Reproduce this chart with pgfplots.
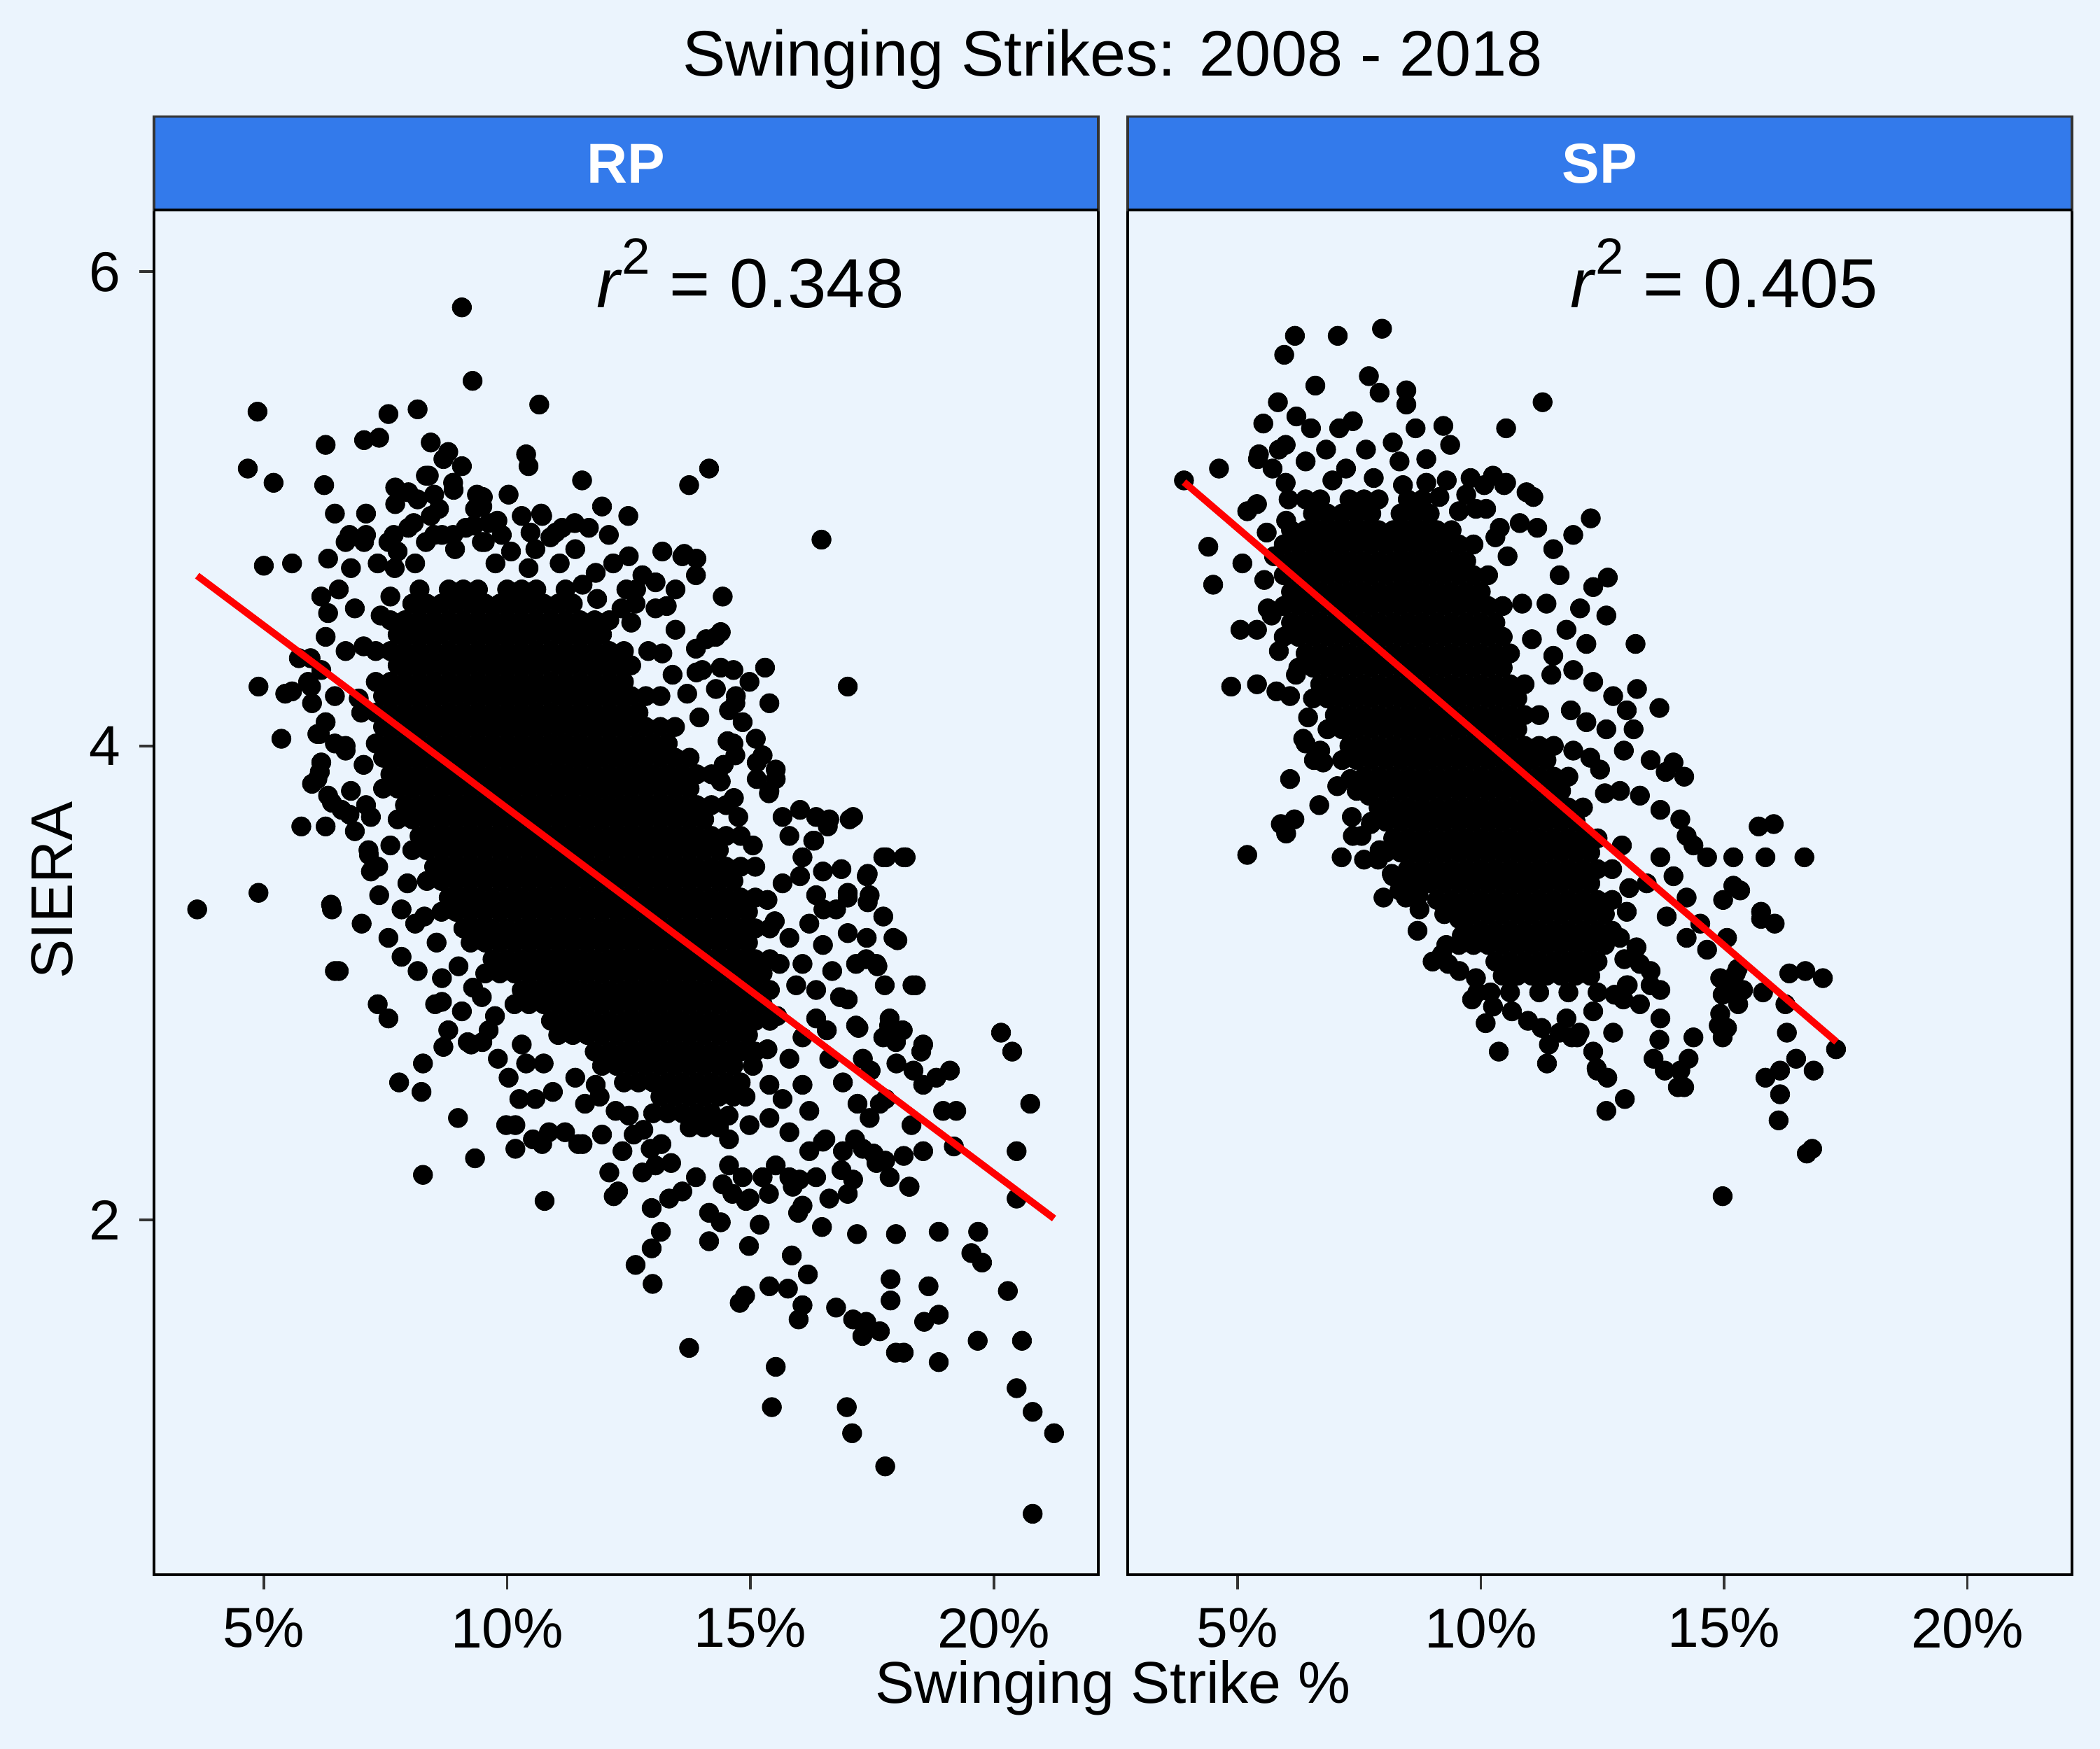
\documentclass[border=0pt]{standalone}
\usepackage{fontspec}
\setmainfont{Liberation Sans}
\usepackage{pgfplots}
\pgfplotsset{compat=1.18}
\definecolor{bg}{RGB}{235,244,253}
\definecolor{stripc}{RGB}{51,122,235}
\definecolor{gray20}{RGB}{51,51,51}
\pgfplotsset{
  panel/.style={
    scale only axis, width=176.25pt, height=254.75pt,
    xmin=2.743, xmax=22.147, ymin=0.503, ymax=6.26,
    clip marker paths=true,
    axis line style={black, line width=0.5pt},
    tick align=outside, major tick length=2.75pt,
    tick style={gray20, line width=0.5pt},
    xtick={5,10,15,20}, xticklabels={5\%,10\%,15\%,20\%},
    ytick={2,4,6},
    xtick pos=bottom, ytick pos=left,
    /pgf/number format/assume math mode=true,
    tick label style={font=\fontsize{10.5}{12}\selectfont, black},
  },
  dots/.style={only marks, mark=*, black, mark size=1.8pt, mark options={line width=0.1pt}},
  fit/.style={red, line width=1.3pt},
}
\newcommand{\rsq}[1]{\textit{r}\raisebox{6.2pt}{\fontsize{9.5}{10}\selectfont 2} = #1}
\begin{document}
\begin{tikzpicture}
\fill[bg] (0,0) rectangle (392pt,326.5pt);
% ---------------- RP ----------------
\begin{axis}[panel, name=rp, at={(28.75pt,32.5pt)}, anchor=south west]
\addplot[dots] coordinates {
(8.2,4.66)(8.8,4.66)(9.1,4.66)(9.4,4.66)(10.0,4.66)(10.3,4.66)(10.6,4.66)(11.2,4.66)
(8.05,4.60)(8.35,4.60)(8.65,4.60)(8.95,4.60)(9.25,4.60)(9.55,4.60)(9.85,4.60)(10.15,4.60)(10.45,4.60)(10.75,4.60)(11.05,4.60)(11.35,4.60)
(7.6,4.53)(7.9,4.53)(8.2,4.53)(8.5,4.53)(8.8,4.53)(9.1,4.53)(9.4,4.53)(9.7,4.53)(10.0,4.53)(10.3,4.53)(10.6,4.53)(10.9,4.53)(11.2,4.53)(11.5,4.53)(11.8,4.53)(12.1,4.53)
(7.75,4.47)(8.05,4.47)(8.35,4.47)(8.65,4.47)(8.95,4.47)(9.25,4.47)(9.55,4.47)(9.85,4.47)(10.15,4.47)(10.45,4.47)(10.75,4.47)(11.05,4.47)(11.35,4.47)(11.65,4.47)(11.95,4.47)
(7.3,4.40)(7.6,4.40)(7.9,4.40)(8.2,4.40)(8.5,4.40)(8.8,4.40)(9.1,4.40)(9.4,4.40)(9.7,4.40)(10.0,4.40)(10.3,4.40)(10.6,4.40)(10.9,4.40)(11.2,4.40)(11.5,4.40)(11.8,4.40)(12.1,4.40)(12.4,4.40)
(7.75,4.34)(8.05,4.34)(8.35,4.34)(8.65,4.34)(8.95,4.34)(9.25,4.34)(9.55,4.34)(9.85,4.34)(10.15,4.34)(10.45,4.34)(10.75,4.34)(11.05,4.34)(11.35,4.34)(11.65,4.34)(11.95,4.34)(12.25,4.34)(12.55,4.34)
(7.3,4.27)(7.6,4.27)(7.9,4.27)(8.2,4.27)(8.5,4.27)(8.8,4.27)(9.1,4.27)(9.4,4.27)(9.7,4.27)(10.0,4.27)(10.3,4.27)(10.6,4.27)(10.9,4.27)(11.2,4.27)(11.5,4.27)(11.8,4.27)(12.1,4.27)(12.4,4.27)
(7.45,4.21)(7.75,4.21)(8.05,4.21)(8.35,4.21)(8.65,4.21)(8.95,4.21)(9.25,4.21)(9.55,4.21)(9.85,4.21)(10.15,4.21)(10.45,4.21)(10.75,4.21)(11.05,4.21)(11.35,4.21)(11.65,4.21)(11.95,4.21)(12.25,4.21)(12.55,4.21)(12.85,4.21)(13.15,4.21)
(7.0,4.14)(7.3,4.14)(7.6,4.14)(7.9,4.14)(8.2,4.14)(8.5,4.14)(8.8,4.14)(9.1,4.14)(9.4,4.14)(9.7,4.14)(10.0,4.14)(10.3,4.14)(10.6,4.14)(10.9,4.14)(11.2,4.14)(11.5,4.14)(11.8,4.14)(12.1,4.14)(12.4,4.14)(12.7,4.14)
(7.45,4.08)(7.75,4.08)(8.05,4.08)(8.35,4.08)(8.65,4.08)(8.95,4.08)(9.25,4.08)(9.55,4.08)(9.85,4.08)(10.15,4.08)(10.45,4.08)(10.75,4.08)(11.05,4.08)(11.35,4.08)(11.65,4.08)(11.95,4.08)(12.25,4.08)(12.55,4.08)(12.85,4.08)(13.15,4.08)(13.45,4.08)
(7.3,4.01)(7.6,4.01)(7.9,4.01)(8.2,4.01)(8.5,4.01)(8.8,4.01)(9.1,4.01)(9.4,4.01)(9.7,4.01)(10.0,4.01)(10.3,4.01)(10.6,4.01)(10.9,4.01)(11.2,4.01)(11.5,4.01)(11.8,4.01)(12.1,4.01)(12.4,4.01)(12.7,4.01)(13.0,4.01)(13.3,4.01)
(7.45,3.95)(7.75,3.95)(8.05,3.95)(8.35,3.95)(8.65,3.95)(8.95,3.95)(9.25,3.95)(9.55,3.95)(9.85,3.95)(10.15,3.95)(10.45,3.95)(10.75,3.95)(11.05,3.95)(11.35,3.95)(11.65,3.95)(11.95,3.95)(12.25,3.95)(12.55,3.95)(12.85,3.95)(13.15,3.95)(13.45,3.95)(13.75,3.95)
(7.6,3.88)(7.9,3.88)(8.2,3.88)(8.5,3.88)(8.8,3.88)(9.1,3.88)(9.4,3.88)(9.7,3.88)(10.0,3.88)(10.3,3.88)(10.6,3.88)(10.9,3.88)(11.2,3.88)(11.5,3.88)(11.8,3.88)(12.1,3.88)(12.4,3.88)(12.7,3.88)(13.0,3.88)(13.3,3.88)(13.6,3.88)(13.9,3.88)(14.2,3.88)
(7.45,3.82)(7.75,3.82)(8.05,3.82)(8.35,3.82)(8.65,3.82)(8.95,3.82)(9.25,3.82)(9.55,3.82)(9.85,3.82)(10.15,3.82)(10.45,3.82)(10.75,3.82)(11.05,3.82)(11.35,3.82)(11.65,3.82)(11.95,3.82)(12.25,3.82)(12.55,3.82)(12.85,3.82)(13.15,3.82)(13.45,3.82)(13.75,3.82)
(7.9,3.75)(8.2,3.75)(8.5,3.75)(8.8,3.75)(9.1,3.75)(9.4,3.75)(9.7,3.75)(10.0,3.75)(10.3,3.75)(10.6,3.75)(10.9,3.75)(11.2,3.75)(11.5,3.75)(11.8,3.75)(12.1,3.75)(12.4,3.75)(12.7,3.75)(13.0,3.75)(13.3,3.75)(13.6,3.75)(13.9,3.75)(14.2,3.75)(14.5,3.75)
(7.75,3.69)(8.05,3.69)(8.35,3.69)(8.65,3.69)(8.95,3.69)(9.25,3.69)(9.55,3.69)(9.85,3.69)(10.15,3.69)(10.45,3.69)(10.75,3.69)(11.05,3.69)(11.35,3.69)(11.65,3.69)(11.95,3.69)(12.25,3.69)(12.55,3.69)(12.85,3.69)(13.15,3.69)(13.45,3.69)(13.75,3.69)(14.05,3.69)
(8.2,3.62)(8.5,3.62)(8.8,3.62)(9.1,3.62)(9.4,3.62)(9.7,3.62)(10.0,3.62)(10.3,3.62)(10.6,3.62)(10.9,3.62)(11.2,3.62)(11.5,3.62)(11.8,3.62)(12.1,3.62)(12.4,3.62)(12.7,3.62)(13.0,3.62)(13.3,3.62)(13.6,3.62)(13.9,3.62)(14.2,3.62)(14.5,3.62)(14.8,3.62)
(8.05,3.56)(8.35,3.56)(8.65,3.56)(8.95,3.56)(9.25,3.56)(9.55,3.56)(9.85,3.56)(10.15,3.56)(10.45,3.56)(10.75,3.56)(11.05,3.56)(11.35,3.56)(11.65,3.56)(11.95,3.56)(12.25,3.56)(12.55,3.56)(12.85,3.56)(13.15,3.56)(13.45,3.56)(13.75,3.56)(14.05,3.56)(14.35,3.56)
(8.5,3.49)(8.8,3.49)(9.1,3.49)(9.4,3.49)(9.7,3.49)(10.0,3.49)(10.3,3.49)(10.6,3.49)(10.9,3.49)(11.2,3.49)(11.5,3.49)(11.8,3.49)(12.1,3.49)(12.4,3.49)(12.7,3.49)(13.0,3.49)(13.3,3.49)(13.6,3.49)(13.9,3.49)(14.2,3.49)(14.5,3.49)(14.8,3.49)(15.1,3.49)
(8.35,3.43)(8.65,3.43)(8.95,3.43)(9.25,3.43)(9.55,3.43)(9.85,3.43)(10.15,3.43)(10.45,3.43)(10.75,3.43)(11.05,3.43)(11.35,3.43)(11.65,3.43)(11.95,3.43)(12.25,3.43)(12.55,3.43)(12.85,3.43)(13.15,3.43)(13.45,3.43)(13.75,3.43)(14.05,3.43)(14.35,3.43)(14.65,3.43)
(8.8,3.36)(9.1,3.36)(9.4,3.36)(9.7,3.36)(10.0,3.36)(10.3,3.36)(10.6,3.36)(10.9,3.36)(11.2,3.36)(11.5,3.36)(11.8,3.36)(12.1,3.36)(12.4,3.36)(12.7,3.36)(13.0,3.36)(13.3,3.36)(13.6,3.36)(13.9,3.36)(14.2,3.36)(14.5,3.36)(14.8,3.36)(15.1,3.36)
(8.65,3.30)(8.95,3.30)(9.25,3.30)(9.55,3.30)(9.85,3.30)(10.15,3.30)(10.45,3.30)(10.75,3.30)(11.05,3.30)(11.35,3.30)(11.65,3.30)(11.95,3.30)(12.25,3.30)(12.55,3.30)(12.85,3.30)(13.15,3.30)(13.45,3.30)(13.75,3.30)(14.05,3.30)(14.35,3.30)(14.65,3.30)(14.95,3.30)
(9.1,3.23)(9.4,3.23)(9.7,3.23)(10.0,3.23)(10.3,3.23)(10.6,3.23)(10.9,3.23)(11.2,3.23)(11.5,3.23)(11.8,3.23)(12.1,3.23)(12.4,3.23)(12.7,3.23)(13.0,3.23)(13.3,3.23)(13.6,3.23)(13.9,3.23)(14.2,3.23)(14.5,3.23)(14.8,3.23)(15.1,3.23)(15.4,3.23)
(9.25,3.17)(9.55,3.17)(9.85,3.17)(10.15,3.17)(10.45,3.17)(10.75,3.17)(11.05,3.17)(11.35,3.17)(11.65,3.17)(11.95,3.17)(12.25,3.17)(12.55,3.17)(12.85,3.17)(13.15,3.17)(13.45,3.17)(13.75,3.17)(14.05,3.17)(14.35,3.17)(14.65,3.17)(14.95,3.17)
(9.7,3.10)(10.0,3.10)(10.3,3.10)(10.6,3.10)(10.9,3.10)(11.2,3.10)(11.5,3.10)(11.8,3.10)(12.1,3.10)(12.4,3.10)(12.7,3.10)(13.0,3.10)(13.3,3.10)(13.6,3.10)(13.9,3.10)(14.2,3.10)(14.5,3.10)(14.8,3.10)(15.1,3.10)(15.4,3.10)
(9.55,3.04)(9.85,3.04)(10.15,3.04)(10.45,3.04)(10.75,3.04)(11.05,3.04)(11.35,3.04)(11.65,3.04)(11.95,3.04)(12.25,3.04)(12.55,3.04)(12.85,3.04)(13.15,3.04)(13.45,3.04)(13.75,3.04)(14.05,3.04)(14.35,3.04)(14.65,3.04)(14.95,3.04)(15.25,3.04)
(10.3,2.97)(10.6,2.97)(10.9,2.97)(11.2,2.97)(11.5,2.97)(11.8,2.97)(12.1,2.97)(12.4,2.97)(12.7,2.97)(13.0,2.97)(13.3,2.97)(13.6,2.97)(13.9,2.97)(14.2,2.97)(14.5,2.97)(14.8,2.97)(15.1,2.97)(15.4,2.97)
(10.15,2.91)(10.45,2.91)(10.75,2.91)(11.05,2.91)(11.35,2.91)(11.65,2.91)(11.95,2.91)(12.25,2.91)(12.55,2.91)(12.85,2.91)(13.15,2.91)(13.45,2.91)(13.75,2.91)(14.05,2.91)(14.35,2.91)(14.65,2.91)(14.95,2.91)(15.25,2.91)
(10.9,2.84)(11.2,2.84)(11.5,2.84)(11.8,2.84)(12.1,2.84)(12.4,2.84)(12.7,2.84)(13.0,2.84)(13.3,2.84)(13.6,2.84)(13.9,2.84)(14.2,2.84)(14.5,2.84)(14.8,2.84)(15.1,2.84)(15.4,2.84)
(11.05,2.78)(11.35,2.78)(11.65,2.78)(11.95,2.78)(12.25,2.78)(12.55,2.78)(12.85,2.78)(13.15,2.78)(13.45,2.78)(13.75,2.78)(14.05,2.78)(14.35,2.78)(14.65,2.78)(14.95,2.78)
(11.8,2.71)(12.1,2.71)(12.4,2.71)(12.7,2.71)(13.0,2.71)(13.3,2.71)(13.6,2.71)(13.9,2.71)(14.2,2.71)(14.5,2.71)(14.8,2.71)(15.1,2.71)
(11.95,2.65)(12.25,2.65)(12.55,2.65)(12.85,2.65)(13.15,2.65)(13.45,2.65)(13.75,2.65)(14.05,2.65)(14.35,2.65)(14.65,2.65)
(12.4,2.58)(12.7,2.58)(13.0,2.58)(13.3,2.58)(13.6,2.58)(13.9,2.58)(14.2,2.58)(14.5,2.58)(14.8,2.58)
(13.15,2.52)(13.45,2.52)(13.75,2.52)(14.05,2.52)(14.35,2.52)(14.65,2.52)
(13.0,2.45)(13.3,2.45)(13.6,2.45)(13.9,2.45)(14.2,2.45)
(13.75,2.39)(14.05,2.39)(14.35,2.39)
};
\addplot[dots] coordinates {
(9.07,5.85)(9.29,5.54)(10.66,5.44)(8.16,5.42)(7.56,5.40)(4.87,5.41)
(4.67,5.17)(5.20,5.11)(6.27,5.27)(6.24,5.10)(7.06,5.29)(7.37,5.30)(8.43,5.28)(8.79,5.24)(8.33,5.14)(7.97,5.07)(9.07,5.18)(10.39,5.23)(10.44,5.18)(11.54,5.12)(11.95,5.01)(10.03,5.06)(14.15,5.17)(13.74,5.10)(9.5,5.05)(8.6,5.0)(7.7,5.02)(7.1,4.98)(9.8,4.95)(10.7,4.98)(8.9,5.08)(8.69,5.21)
(3.63,3.31)(4.89,3.38)(5.36,4.03)(4.89,4.25)(5.00,4.76)(5.58,4.77)(5.77,3.66)(6.27,3.66)(6.38,3.33)(6.46,3.05)(6.40,3.31)
(6.46,4.98)(6.68,4.86)(6.32,4.79)(6.79,4.75)(7.06,4.86)(6.18,4.63)(6.54,4.66)(6.32,4.56)(6.87,4.58)(6.27,4.46)(5.96,4.37)(6.18,4.32)(6.68,4.40)(5.91,4.27)(5.58,4.23)(5.99,4.18)(6.46,4.21)(6.27,4.10)(6.10,4.05)(6.46,4.01)(6.18,3.93)(6.68,3.98)(5.99,3.84)(6.32,3.79)(6.79,3.81)(6.60,3.73)(6.87,3.64)(7.15,3.56)(7.20,3.47)(7.37,3.37)(7.01,3.25)(7.56,3.19)(7.83,3.11)(8.11,3.25)(7.83,3.31)(8.16,3.05)(8.66,3.02)(8.52,2.91)(9.07,2.88)(8.79,2.80)(9.48,2.94)(9.62,2.80)(9.26,2.74)(9.81,2.68)(10.03,2.60)(10.39,2.66)(10.25,2.51)(10.58,2.51)(10.94,2.54)(10.17,2.40)(10.53,2.34)(10.86,2.37)(11.19,2.37)(11.46,2.32)(11.95,2.36)(11.60,2.49)(11.82,2.57)(12.23,2.46)(12.37,2.29)(12.10,2.20)(12.28,2.12)(12.78,2.20)(13.05,2.23)(12.97,2.05)(13.33,2.09)(13.60,2.12)(13.88,2.18)(14.15,2.03)(14.43,2.15)(14.56,2.23)(14.84,2.18)(14.98,2.09)(15.25,2.18)(15.52,2.23)(15.80,2.18)(16.07,2.06)(16.35,2.18)(16.62,2.09)(16.21,2.29)(16.54,2.34)(16.90,2.29)(17.31,2.30)(17.59,2.24)(17.86,2.18)(18.27,2.14)(17.45,2.43)(17.78,2.51)(17.20,2.49)(16.90,2.58)(16.62,2.68)(17.31,2.68)(17.73,2.77)(18.00,2.66)(18.35,2.63)(18.55,2.57)(17.17,2.82)(16.84,2.94)(16.57,2.80)(16.35,2.97)(16.68,3.05)(17.17,3.08)(16.49,3.16)(16.21,3.25)(16.76,3.31)(16.35,3.37)(16.02,3.45)(16.49,3.47)(16.07,3.53)(15.80,3.62)(16.29,3.60)(15.66,3.70)(16.02,3.73)(16.35,3.70)(16.62,3.69)(15.39,3.81)(15.52,3.90)(15.25,3.96)(15.11,4.03)(14.65,4.01)(14.84,4.10)(14.56,4.15)(14.29,4.24)(14.65,4.32)(14.98,4.27)(14.01,4.32)(13.88,4.41)(14.29,4.46)(13.46,4.49)(13.19,4.39)(13.05,4.58)(12.64,4.60)(12.78,4.72)(12.45,4.66)(12.18,4.77)(11.82,4.73)(11.40,4.83)(11.08,4.77)(11.00,4.90)(10.58,4.83)(10.44,4.75)(10.08,4.82)(9.76,4.77)(9.48,4.86)(9.15,4.92)(8.93,4.83)(8.66,4.89)(8.33,4.86)(8.43,4.97)(7.97,4.92)(7.56,4.86)(7.34,4.77)(7.69,4.75)(8.11,4.77)(9.34,5.00)(9.62,4.94)(9.89,4.89)(10.30,4.97)(10.72,4.97)(11.13,4.92)(11.68,4.92)(12.09,4.89)(12.50,4.80)(13.19,4.82)(13.60,4.80)(13.88,4.72)(14.43,4.63)(13.46,4.66)(13.05,4.69)(14.70,4.21)(15.39,4.18)
(16.46,4.87)(17.00,4.25)(17.04,3.69)(17.73,3.53)(18.19,3.53)(17.39,3.45)(17.45,3.37)(17.73,3.28)(17.94,3.19)(17.39,3.19)(18.33,2.99)(17.59,3.08)(17.86,2.85)(18.13,2.80)(18.55,2.74)(18.82,2.60)(19.10,2.63)(18.96,2.46)(19.23,2.46)(19.18,2.31)(18.55,2.29)(20.15,2.79)(20.38,2.71)(20.75,2.49)(20.47,2.29)(20.47,2.09)
(7.78,2.58)(8.27,2.66)(8.24,2.54)(8.27,2.19)(8.99,2.43)(9.34,2.26)(10.77,2.08)(8.66,2.92)(7.34,2.91)(7.56,2.85)(6.54,3.05)
(12.99,1.73)(12.64,1.81)(13.74,1.46)(14.15,1.91)(14.78,1.65)(14.89,1.68)(15.39,1.72)(15.44,1.21)(15.52,1.38)(15.85,1.85)(15.77,1.71)(15.99,1.58)(16.07,1.64)(16.76,1.63)(16.98,1.21)(17.09,1.10)(17.11,1.58)(17.38,1.57)(17.30,1.51)(17.66,1.53)(17.77,0.96)(17.88,1.75)(17.88,1.66)(17.99,1.44)(18.15,1.44)(17.19,1.94)(17.99,1.94)(18.87,1.40)(18.87,1.95)(18.66,1.72)(18.87,1.60)(18.57,1.57)(19.67,1.49)(19.68,1.95)(19.76,1.82)(19.54,1.86)(20.29,1.70)(20.47,1.29)(20.58,1.49)(20.80,1.19)(20.80,0.76)(21.24,1.10)
(16.47,1.97)(15.98,2.03)(16.18,1.77)(13.16,1.95)(14.39,1.99)(14.97,1.89)(15.19,1.98)(12.97,1.88)(12.19,2.10)(14.63,2.11)(14.91,2.08)(15.38,2.11)(15.87,2.14)(16.01,2.17)(17.00,2.11)(16.87,2.21)(17.11,2.17)(17.77,2.25)(18.15,2.27)(18.26,2.14)(16.49,2.33)(17.15,2.34)(17.53,2.28)(18.31,2.40)(17.85,2.82)(17.99,2.75)(17.47,2.63)(17.22,2.81)(17.66,2.49)(17.76,2.99)(17.00,3.21)(17.38,3.10)(17.61,3.07)(17.00,2.93)(16.50,3.31)(17.00,3.36)(17.41,3.34)(18.40,2.99)(18.02,3.18)(18.51,2.71)
(15.66,3.42)(15.80,3.19)(16.07,3.08)(15.94,2.99)(16.35,2.85)(16.07,2.77)(15.80,2.68)(16.07,2.57)(15.66,2.51)(15.39,2.43)(14.98,2.40)(14.56,2.34)(15.80,2.37)(16.21,2.46)(15.39,2.57)
(9.19,2.75)(9.49,2.75)(8.69,2.73)(11.55,2.32)(12.60,2.36)(12.95,2.30)(13.37,2.24)(13.17,2.32)(9.98,2.40)(10.17,2.30)(10.72,2.32)
(8.39,5.14)(8.89,5.11)(7.70,5.09)(8.16,5.04)(8.50,5.06)(9.38,5.06)(9.49,5.01)(12.49,4.97)(11.39,4.94)(10.48,4.90)(10.89,4.88)(7.67,4.89)(7.75,4.82)(8.08,4.94)(8.50,4.89)(8.89,4.89)(9.32,4.93)(9.54,4.86)(7.10,4.89)(6.76,4.89)(13.64,4.81)(13.89,4.79)(12.65,4.66)(13.28,4.59)(15.30,4.33)(14.39,4.48)(14.09,4.45)(14.69,4.18)(14.39,4.33)(13.89,4.31)(5.72,4.37)(5.97,4.25)(5.44,4.22)(6.15,4.05)(6.68,4.00)(6.10,3.86)(6.15,3.89)(6.40,3.76)(6.76,3.71)(7.10,3.75)(7.16,3.54)(7.35,3.49)(17.11,3.70)(16.59,3.66)(16.31,3.60)(17.79,3.53)(18.15,3.53)(16.87,3.48)(17.41,3.46)(17.00,3.38)(15.13,3.93)(15.52,3.86)(15.38,3.80)(15.13,3.86)(14.53,4.02)(14.69,3.96)(14.39,3.85)(14.66,3.78)
(7.05,4.42)(6.95,4.20)(7.05,3.92)(7.20,3.70)(7.60,3.58)(7.95,3.42)(8.30,3.28)(8.55,3.17)(9.00,3.07)(9.30,2.98)(9.75,2.86)(10.30,2.74)(10.75,2.66)(11.40,2.60)(11.90,2.52)(12.50,2.44)(12.80,2.38)(14.55,2.44)(14.90,2.52)(15.05,2.65)(15.35,2.72)(15.55,2.86)(15.60,3.08)(15.50,3.26)(15.35,3.35)(15.05,3.58)(14.75,3.70)(14.45,3.92)(13.95,4.12)(13.70,4.22)(13.40,4.30)(12.90,4.40)(12.55,4.52)(12.35,4.58)(11.85,4.62)(11.55,4.68)(7.60,4.63)(7.40,4.55)
};
\addplot[fit] coordinates {(3.63,4.718) (21.24,2.006)};
\node[anchor=base, font=\fontsize{13}{15}\selectfont] at (axis cs:15,5.85) {\rsq{0.348}};
\end{axis}
% ---------------- SP ----------------
\begin{axis}[panel, name=sp, at={(210.5pt,32.5pt)}, anchor=south west, ytick=\empty]
\addplot[dots] coordinates {
(6.4,5.04)(6.7,5.04)(7.3,5.04)(7.6,5.04)(7.9,5.04)(8.5,5.04)(8.8,5.04)
(6.55,4.98)(6.85,4.98)(7.15,4.98)(7.45,4.98)(7.75,4.98)(8.35,4.98)(8.65,4.98)(8.95,4.98)
(6.1,4.91)(6.4,4.91)(6.7,4.91)(7.0,4.91)(7.3,4.91)(7.6,4.91)(7.9,4.91)(8.2,4.91)(8.5,4.91)(8.8,4.91)(9.1,4.91)(9.4,4.91)
(5.95,4.85)(6.25,4.85)(6.55,4.85)(6.85,4.85)(7.15,4.85)(7.45,4.85)(7.75,4.85)(8.05,4.85)(8.35,4.85)(8.65,4.85)(8.95,4.85)(9.25,4.85)(9.55,4.85)(9.85,4.85)
(6.1,4.78)(6.4,4.78)(6.7,4.78)(7.0,4.78)(7.3,4.78)(7.6,4.78)(7.9,4.78)(8.2,4.78)(8.5,4.78)(8.8,4.78)(9.1,4.78)(9.4,4.78)(9.7,4.78)
(5.95,4.72)(6.25,4.72)(6.55,4.72)(6.85,4.72)(7.15,4.72)(7.45,4.72)(7.75,4.72)(8.05,4.72)(8.35,4.72)(8.65,4.72)(8.95,4.72)(9.25,4.72)(9.55,4.72)(9.85,4.72)(10.15,4.72)
(6.1,4.65)(6.4,4.65)(6.7,4.65)(7.0,4.65)(7.3,4.65)(7.6,4.65)(7.9,4.65)(8.2,4.65)(8.5,4.65)(8.8,4.65)(9.1,4.65)(9.4,4.65)(9.7,4.65)(10.0,4.65)
(5.95,4.59)(6.25,4.59)(6.55,4.59)(6.85,4.59)(7.15,4.59)(7.45,4.59)(7.75,4.59)(8.05,4.59)(8.35,4.59)(8.65,4.59)(8.95,4.59)(9.25,4.59)(9.55,4.59)(9.85,4.59)(10.15,4.59)(10.45,4.59)
(6.1,4.52)(6.4,4.52)(6.7,4.52)(7.0,4.52)(7.3,4.52)(7.6,4.52)(7.9,4.52)(8.2,4.52)(8.5,4.52)(8.8,4.52)(9.1,4.52)(9.4,4.52)(9.7,4.52)(10.0,4.52)(10.3,4.52)
(5.95,4.46)(6.25,4.46)(6.55,4.46)(6.85,4.46)(7.15,4.46)(7.45,4.46)(7.75,4.46)(8.05,4.46)(8.35,4.46)(8.65,4.46)(8.95,4.46)(9.25,4.46)(9.55,4.46)(9.85,4.46)(10.15,4.46)(10.45,4.46)
(6.4,4.39)(6.7,4.39)(7.0,4.39)(7.3,4.39)(7.6,4.39)(7.9,4.39)(8.2,4.39)(8.5,4.39)(8.8,4.39)(9.1,4.39)(9.4,4.39)(9.7,4.39)(10.0,4.39)(10.3,4.39)(10.6,4.39)
(6.25,4.33)(6.55,4.33)(6.85,4.33)(7.15,4.33)(7.45,4.33)(7.75,4.33)(8.05,4.33)(8.35,4.33)(8.65,4.33)(8.95,4.33)(9.25,4.33)(9.55,4.33)(9.85,4.33)(10.15,4.33)(10.45,4.33)
(6.7,4.26)(7.0,4.26)(7.3,4.26)(7.6,4.26)(7.9,4.26)(8.2,4.26)(8.5,4.26)(8.8,4.26)(9.1,4.26)(9.4,4.26)(9.7,4.26)(10.0,4.26)(10.3,4.26)(10.6,4.26)(10.9,4.26)
(6.55,4.20)(6.85,4.20)(7.15,4.20)(7.45,4.20)(7.75,4.20)(8.05,4.20)(8.35,4.20)(8.65,4.20)(8.95,4.20)(9.25,4.20)(9.55,4.20)(9.85,4.20)(10.15,4.20)(10.45,4.20)(10.75,4.20)
(7.0,4.13)(7.3,4.13)(7.6,4.13)(7.9,4.13)(8.2,4.13)(8.5,4.13)(8.8,4.13)(9.1,4.13)(9.4,4.13)(9.7,4.13)(10.0,4.13)(10.3,4.13)(10.6,4.13)(10.9,4.13)(11.2,4.13)
(6.85,4.07)(7.15,4.07)(7.45,4.07)(7.75,4.07)(8.05,4.07)(8.35,4.07)(8.65,4.07)(8.95,4.07)(9.25,4.07)(9.55,4.07)(9.85,4.07)(10.15,4.07)(10.45,4.07)(10.75,4.07)
(7.3,4.00)(7.6,4.00)(7.9,4.00)(8.2,4.00)(8.5,4.00)(8.8,4.00)(9.1,4.00)(9.4,4.00)(9.7,4.00)(10.0,4.00)(10.3,4.00)(10.6,4.00)(10.9,4.00)(11.2,4.00)(11.5,4.00)
(7.15,3.94)(7.45,3.94)(7.75,3.94)(8.05,3.94)(8.35,3.94)(8.65,3.94)(8.95,3.94)(9.25,3.94)(9.55,3.94)(9.85,3.94)(10.15,3.94)(10.45,3.94)(10.75,3.94)(11.05,3.94)(11.35,3.94)
(7.6,3.87)(7.9,3.87)(8.2,3.87)(8.5,3.87)(8.8,3.87)(9.1,3.87)(9.4,3.87)(9.7,3.87)(10.0,3.87)(10.3,3.87)(10.6,3.87)(10.9,3.87)(11.2,3.87)(11.5,3.87)(11.8,3.87)
(7.45,3.81)(7.75,3.81)(8.05,3.81)(8.35,3.81)(8.65,3.81)(8.95,3.81)(9.25,3.81)(9.55,3.81)(9.85,3.81)(10.15,3.81)(10.45,3.81)(10.75,3.81)(11.05,3.81)(11.35,3.81)(11.65,3.81)
(7.9,3.74)(8.2,3.74)(8.5,3.74)(8.8,3.74)(9.1,3.74)(9.4,3.74)(9.7,3.74)(10.0,3.74)(10.3,3.74)(10.6,3.74)(10.9,3.74)(11.2,3.74)(11.5,3.74)(11.8,3.74)(12.1,3.74)
(7.75,3.68)(8.05,3.68)(8.35,3.68)(8.65,3.68)(8.95,3.68)(9.25,3.68)(9.55,3.68)(9.85,3.68)(10.15,3.68)(10.45,3.68)(10.75,3.68)(11.05,3.68)(11.35,3.68)(11.65,3.68)(11.95,3.68)
(8.2,3.61)(8.5,3.61)(8.8,3.61)(9.1,3.61)(9.4,3.61)(9.7,3.61)(10.0,3.61)(10.3,3.61)(10.6,3.61)(10.9,3.61)(11.2,3.61)(11.5,3.61)(11.8,3.61)(12.1,3.61)(12.4,3.61)
(8.05,3.55)(8.35,3.55)(8.65,3.55)(8.95,3.55)(9.25,3.55)(9.55,3.55)(9.85,3.55)(10.15,3.55)(10.45,3.55)(10.75,3.55)(11.05,3.55)(11.35,3.55)(11.65,3.55)(11.95,3.55)(12.25,3.55)
(8.5,3.48)(8.8,3.48)(9.1,3.48)(9.4,3.48)(9.7,3.48)(10.0,3.48)(10.3,3.48)(10.6,3.48)(10.9,3.48)(11.2,3.48)(11.5,3.48)(11.8,3.48)(12.1,3.48)(12.4,3.48)(12.7,3.48)
(8.35,3.42)(8.65,3.42)(8.95,3.42)(9.25,3.42)(9.55,3.42)(9.85,3.42)(10.15,3.42)(10.45,3.42)(10.75,3.42)(11.05,3.42)(11.35,3.42)(11.65,3.42)(11.95,3.42)(12.25,3.42)
(9.1,3.35)(9.4,3.35)(9.7,3.35)(10.0,3.35)(10.3,3.35)(10.6,3.35)(10.9,3.35)(11.2,3.35)(11.5,3.35)(11.8,3.35)(12.1,3.35)(12.4,3.35)(12.7,3.35)
(9.25,3.29)(9.55,3.29)(9.85,3.29)(10.15,3.29)(10.45,3.29)(10.75,3.29)(11.05,3.29)(11.35,3.29)(11.65,3.29)(11.95,3.29)(12.25,3.29)(12.55,3.29)
(9.7,3.22)(10.0,3.22)(10.3,3.22)(10.6,3.22)(10.9,3.22)(11.2,3.22)(11.5,3.22)(11.8,3.22)(12.1,3.22)(12.4,3.22)(12.7,3.22)
(9.55,3.16)(9.85,3.16)(10.15,3.16)(10.45,3.16)(10.75,3.16)(11.05,3.16)(11.35,3.16)(11.65,3.16)(11.95,3.16)(12.25,3.16)(12.55,3.16)
(10.3,3.09)(10.6,3.09)(10.9,3.09)(11.2,3.09)(11.5,3.09)(11.8,3.09)(12.1,3.09)(12.4,3.09)
(10.45,3.03)(10.75,3.03)(11.05,3.03)(11.35,3.03)(11.65,3.03)(11.95,3.03)(12.25,3.03)
(10.6,2.96)(11.2,2.96)(11.8,2.96)(12.4,2.96)
};
\addplot[dots] coordinates {
(3.90,5.12)(4.62,5.17)(4.40,4.84)(4.50,4.68)(5.10,4.77)(5.40,5.02)(5.20,4.99)(5.06,4.49)(5.40,4.49)(4.87,4.25)(5.40,4.26)(5.80,4.23)(6.08,4.21)(6.35,4.03)(6.57,3.94)(6.08,3.86)(6.68,3.75)(5.89,3.67)(6.17,3.69)(6.00,3.63)(5.20,3.54)(7.32,3.86)(7.55,3.62)(7.74,3.67)(7.89,3.52)(8.17,3.46)(8.60,3.44)(8.72,3.37)(9.33,3.08)(9.55,3.27)(9.61,3.20)(9.82,2.93)(9.93,2.96)(10.20,2.96)(10.10,2.83)(10.37,2.71)(10.64,2.88)(10.97,2.84)(11.25,2.81)(11.36,2.66)(11.40,2.74)(11.62,2.79)(11.87,2.77)(12.03,2.79)(12.38,2.64)(12.60,2.60)(12.96,2.51)(12.93,2.93)(13.02,2.99)(13.49,2.99)(13.49,3.05)(13.67,2.76)(13.78,2.63)(14.05,2.56)(14.27,2.68)(14.89,2.82)(14.97,2.77)(15.12,2.97)(15.24,3.04)(15.29,2.91)(15.80,2.96)(16.26,2.91)(16.29,2.79)(16.34,3.04)(16.67,3.05)(17.03,3.02)(16.15,2.63)(16.48,2.68)(15.85,2.60)(16.15,2.53)(16.12,2.42)(16.70,2.28)(16.81,2.30)(14.97,2.10)(16.84,2.63)(17.30,2.72)(15.76,3.27)(16.04,3.25)(15.76,3.30)(15.71,3.66)(15.85,3.53)(15.19,3.53)(15.19,3.41)(16.65,3.53)(16.02,3.67)(14.98,3.35)(15.33,3.39)(14.65,3.53)(14.37,3.58)(14.23,3.62)(14.10,3.69)(13.69,3.73)(14.18,3.87)(13.96,3.93)(13.49,3.94)(13.80,3.89)(13.14,4.07)(13.00,4.15)(13.18,4.43)(13.21,4.24)(13.67,4.16)(12.94,3.98)(12.61,4.71)(12.31,4.67)(12.04,4.58)(12.58,4.55)(11.62,4.72)(11.35,4.60)(11.76,4.49)(12.17,4.43)(11.49,4.38)(11.90,4.32)(12.31,4.27)(12.72,4.21)(12.58,4.07)(12.17,4.10)(11.90,3.98)(12.45,3.90)(12.86,3.81)(13.27,3.79)(12.26,4.96)(11.90,4.89)(11.49,4.83)(10.80,4.94)(10.94,5.07)(11.16,4.92)(10.52,5.11)(10.25,5.14)(9.79,5.13)(10.07,5.10)(10.48,5.10)(11.08,5.05)(11.27,5.45)(10.52,5.34)
(7.97,5.76)(7.06,5.73)(6.18,5.73)(5.96,5.65)(7.70,5.56)(7.92,5.49)(6.60,5.52)(5.83,5.45)(5.53,5.36)(5.42,5.21)(5.99,5.27)(6.51,5.34)(6.21,5.39)(8.47,5.50)(8.47,5.44)(9.23,5.35)(9.37,5.27)(8.66,5.34)(8.88,5.21)(7.09,5.34)(7.37,5.37)(8.19,5.28)(6.82,5.25)(6.40,5.20)(7.64,5.25)(8.33,5.20)(5.99,5.11)(7.23,5.17)(8.88,5.11)(9.70,5.06)(10.11,5.00)(10.39,4.92)(5.72,5.17)(5.44,5.23)(5.85,5.25)(6.95,5.12)(7.80,5.13)(8.40,5.10)(9.30,5.12)(9.55,4.99)(6.05,5.04)(5.60,4.90)(5.55,4.70)(5.62,4.58)
(13.41,3.42)(13.82,3.28)(14.23,3.19)(14.65,3.14)(15.06,3.19)(15.28,3.06)(14.92,3.02)(15.39,2.97)(14.97,2.95)(14.92,2.87)(15.06,2.81)(13.69,3.53)(13.96,3.45)(14.23,3.36)(14.51,3.25)(13.00,3.30)(13.20,3.15)(12.86,3.19)(13.27,3.08)(13.27,2.91)(12.72,2.79)(12.31,2.88)(12.31,2.71)(11.76,2.85)(11.98,2.77)(12.39,2.63)(12.58,2.46)(13.55,2.68)(13.69,2.85)(14.10,2.63)(14.18,2.56)(14.37,2.77)(13.69,2.97)(13.00,2.99)
(6.40,4.01)(6.76,3.93)(7.37,3.62)(7.14,3.53)(7.70,3.79)(7.92,3.56)(8.19,3.45)(8.33,3.39)(8.46,3.36)(8.74,3.31)(9.01,3.09)(9.29,3.16)(9.56,3.05)
(6.20,4.30)(6.45,4.12)(6.70,3.98)(7.05,3.83)(7.35,3.70)(7.60,3.52)(8.00,3.36)(8.70,3.22)(9.20,3.12)(9.90,3.02)(10.25,2.90)(12.75,2.95)(12.95,3.10)(13.05,3.40)(12.90,3.58)(12.55,3.80)(12.25,3.95)(11.85,4.15)(11.45,4.30)(11.05,4.45)(10.85,4.60)(10.55,4.80)(10.30,4.88)(9.90,5.00)(9.15,5.05)(6.00,4.95)(5.75,4.80)(5.70,4.55)(5.85,4.40)
};
\addplot[fit] coordinates {(3.90,5.113) (17.31,2.751)};
\node[anchor=base, font=\fontsize{13}{15}\selectfont] at (axis cs:15,5.85) {\rsq{0.405}};
\end{axis}
% strips
\draw[fill=stripc, draw=gray20, line width=0.5pt] (rp.north west) rectangle ([yshift=17.5pt]rp.north east);
\node[text=white, font=\bfseries\fontsize{10.5}{12}\selectfont] at ([yshift=8.75pt]rp.north) {RP};
\draw[fill=stripc, draw=gray20, line width=0.5pt] (sp.north west) rectangle ([yshift=17.5pt]sp.north east);
\node[text=white, font=\bfseries\fontsize{10.5}{12}\selectfont] at ([yshift=8.75pt]sp.north) {SP};
\draw[black, line width=0.5pt] (rp.north west) -- (rp.north east);
\draw[black, line width=0.5pt] (sp.north west) -- (sp.north east);
\node[anchor=base, font=\fontsize{12}{14}\selectfont] at (207.75pt,312.3pt) {Swinging Strikes: 2008 - 2018};
\node[anchor=base, font=\fontsize{11}{13}\selectfont] at (207.75pt,8.5pt) {Swinging Strike \%};
\node[anchor=base, rotate=90, font=\fontsize{11}{13}\selectfont] at (13.5pt,160.3pt) {SIERA};
\pgfresetboundingbox
\path[use as bounding box] (0,0) rectangle (392pt,326.5pt);
\end{tikzpicture}
\end{document}
